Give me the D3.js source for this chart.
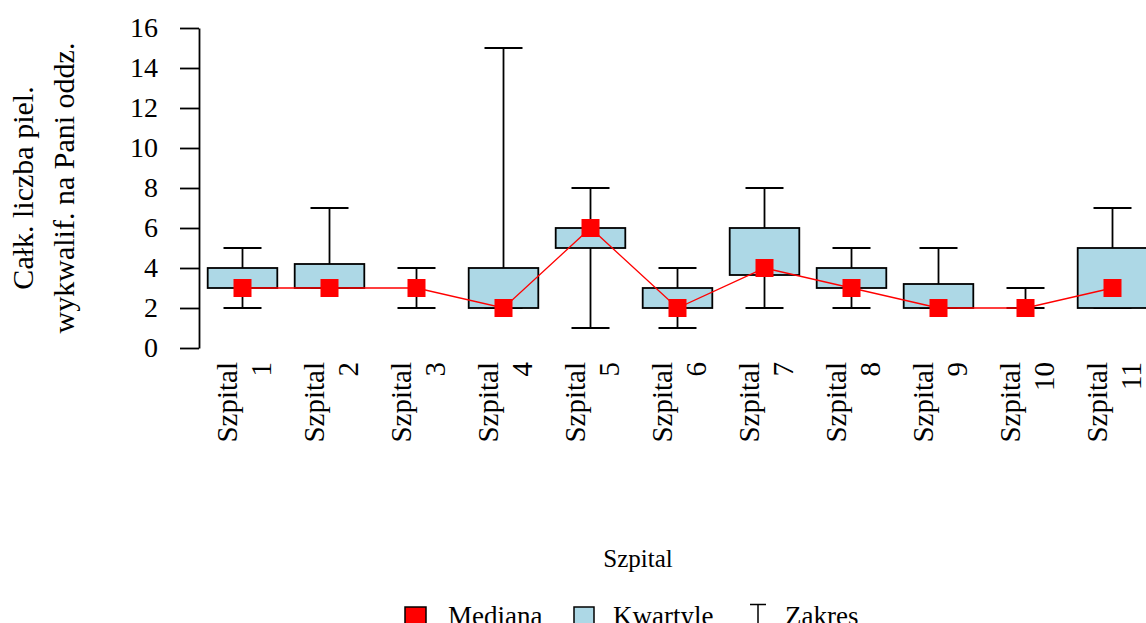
<!DOCTYPE html>
<html>
<head>
<meta charset="utf-8">
<script src="https://cdn.jsdelivr.net/npm/d3@7"></script>
<style>
  body { margin: 0; background: #fff; }
</style>
</head>
<body>
<div id="chart"></div>
<script>
// dane
const szpitale = ["1", "2", "3", "4", "5", "6", "7", "8", "9", "10", "11"];
const minimum  = [2, 3, 2, 2, 1, 1, 2, 2, 2, 2, 2];
const kwartyl1 = [3, 3, 3, 2, 5, 2, 3.65, 3, 2, 2, 2];
const mediana  = [3, 3, 3, 2, 6, 2, 4, 3, 2, 2, 3];
const kwartyl3 = [4, 4.2, 3, 4, 6, 3, 6, 4, 3.2, 2, 5];
const maksimum = [5, 7, 4, 15, 8, 4, 8, 5, 5, 3, 7];
const yTicks = [0, 2, 4, 6, 8, 10, 12, 14, 16];

const width = 1146, height = 623;
const FONT = "'Liberation Serif'";

const svg = d3.select("#chart")
    .append("svg")
    .attr("width", width)
    .attr("height", height);

const y = d3.scaleLinear().domain([0, 16]).range([348, 28]);
const x = d3.scaleBand().domain(szpitale).range([199, 1156]).padding(0);
const cx = d => x(d) + x.bandwidth() / 2;
const boxW = x.bandwidth() * 0.8;
const capW = 38;

// os Y
const yAxis = svg.append("g")
    .attr("transform", "translate(199,0)")
    .call(d3.axisLeft(y).tickValues(yTicks).tickSize(19).tickSizeOuter(0).tickPadding(22));
yAxis.select(".domain").attr("stroke", "#000").attr("stroke-width", 1.8);
yAxis.selectAll(".tick line").attr("stroke", "#000").attr("stroke-width", 1.8);
yAxis.selectAll(".tick text")
    .style("font-family", FONT)
    .style("font-size", "28px")
    .attr("fill", "#000");

// tytul osi Y
const yTitle = svg.append("text")
    .attr("transform", "translate(0,188) rotate(-90)")
    .attr("text-anchor", "middle")
    .style("font-family", FONT)
    .style("font-size", "30px");
yTitle.append("tspan").attr("x", 0).attr("y", 33).text("Całk. liczba piel.");
yTitle.append("tspan").attr("x", 0).attr("y", 74).text("wykwalif. na Pani oddz.");

const data = szpitale.map((s, i) => ({
    s: s, min: minimum[i], q1: kwartyl1[i], med: mediana[i], q3: kwartyl3[i], max: maksimum[i]
}));

const g = svg.append("g");

// wasy
g.selectAll(".whisker-up")
    .data(data).enter().append("line")
    .attr("x1", d => cx(d.s)).attr("x2", d => cx(d.s))
    .attr("y1", d => y(d.q3)).attr("y2", d => y(d.max))
    .attr("stroke", "#000").attr("stroke-width", 1.8);
g.selectAll(".whisker-down")
    .data(data).enter().append("line")
    .attr("x1", d => cx(d.s)).attr("x2", d => cx(d.s))
    .attr("y1", d => y(d.q1)).attr("y2", d => y(d.min))
    .attr("stroke", "#000").attr("stroke-width", 1.8);
g.selectAll(".cap-up")
    .data(data).enter().append("line")
    .attr("x1", d => cx(d.s) - capW / 2).attr("x2", d => cx(d.s) + capW / 2)
    .attr("y1", d => y(d.max)).attr("y2", d => y(d.max))
    .attr("stroke", "#000").attr("stroke-width", 1.8);
g.selectAll(".cap-down")
    .data(data).enter().append("line")
    .attr("x1", d => cx(d.s) - capW / 2).attr("x2", d => cx(d.s) + capW / 2)
    .attr("y1", d => y(d.min)).attr("y2", d => y(d.min))
    .attr("stroke", "#000").attr("stroke-width", 1.8);

// pudelka (kwartyle)
g.selectAll(".box")
    .data(data).enter().append("rect")
    .attr("x", d => cx(d.s) - boxW / 2)
    .attr("width", boxW)
    .attr("y", d => y(d.q3))
    .attr("height", d => y(d.q1) - y(d.q3))
    .attr("fill", "#ADD8E6")
    .attr("stroke", "#000")
    .attr("stroke-width", 1.8);

// linia median
const line = d3.line().x(d => cx(d.s)).y(d => y(d.med));
g.append("path")
    .datum(data)
    .attr("d", line)
    .attr("fill", "none")
    .attr("stroke", "#FF0000")
    .attr("stroke-width", 1.3);

const sq = 18;
g.selectAll(".med")
    .data(data).enter().append("rect")
    .attr("x", d => cx(d.s) - sq / 2)
    .attr("y", d => y(d.med) - sq / 2)
    .attr("width", sq).attr("height", sq)
    .attr("fill", "#FF0000");

// etykiety osi X
const lab = svg.selectAll(".xlab")
    .data(szpitale).enter().append("text")
    .attr("transform", d => "translate(" + cx(d) + ",362) rotate(-90)")
    .attr("text-anchor", "end")
    .style("font-family", FONT)
    .style("font-size", "29px");
lab.append("tspan").attr("x", 0).attr("y", -6).text("Szpital");
lab.append("tspan").attr("x", 0).attr("y", 28).text(d => d);

// tytul osi X
svg.append("text")
    .attr("x", 638).attr("y", 567)
    .attr("text-anchor", "middle")
    .style("font-family", FONT)
    .style("font-size", "25px")
    .text("Szpital");

// legenda
const leg = svg.append("g").style("font-family", FONT).style("font-size", "27px");
leg.append("rect").attr("x", 405).attr("y", 607).attr("width", 21).attr("height", 21)
    .attr("fill", "#FF0000").attr("stroke", "#000").attr("stroke-width", 1.5);
leg.append("text").attr("x", 448).attr("y", 625).text("Mediana");
leg.append("rect").attr("x", 574).attr("y", 607).attr("width", 20).attr("height", 20)
    .attr("fill", "#ADD8E6").attr("stroke", "#000").attr("stroke-width", 1.5);
leg.append("text").attr("x", 613).attr("y", 625).text("Kwartyle");
leg.append("path").attr("d", "M750,604.5H766M758,604.5V624")
    .attr("fill", "none").attr("stroke", "#000").attr("stroke-width", 1.5);
leg.append("text").attr("x", 785).attr("y", 625).text("Zakres");
</script>
</body>
</html>
